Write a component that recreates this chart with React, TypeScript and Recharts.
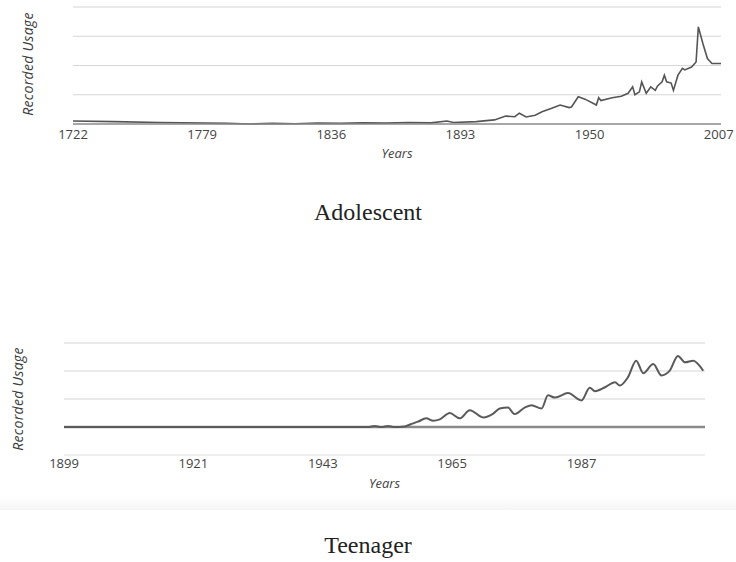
import React from "react"
import { LineChart, Line, XAxis, YAxis, CartesianGrid, ReferenceLine, Label } from "recharts"

// Adolescent: recorded usage by year (gridline units)
const adolescentYears = [
  1722, 1740, 1760, 1790, 1800, 1810, 1820, 1830, 1840, 1850, 1860, 1870, 1880, 1887, 1890,
  1900, 1908, 1913, 1917, 1919, 1922, 1926, 1929, 1933, 1937, 1941, 1942, 1945, 1948, 1953,
  1954, 1955, 1960, 1964, 1967, 1969, 1970, 1972, 1973, 1975, 1977, 1979, 1980, 1982, 1983,
  1984, 1986, 1987, 1989, 1991, 1992, 1995, 1997, 1998, 2000, 2002, 2004, 2008,
]
const adolescentUsage = [
  0.1, 0.08, 0.05, 0.02, 0, 0.02, 0.01, 0.03, 0.02, 0.04, 0.03, 0.05, 0.04, 0.1, 0.05,
  0.08, 0.14, 0.27, 0.25, 0.37, 0.24, 0.3, 0.42, 0.53, 0.65, 0.56, 0.58, 0.93, 0.85, 0.65,
  0.9, 0.8, 0.9, 0.95, 1.05, 1.27, 1.0, 1.1, 1.44, 1.05, 1.27, 1.15, 1.3, 1.44, 1.67,
  1.44, 1.4, 1.15, 1.67, 1.9, 1.85, 1.95, 2.12, 3.32, 2.75, 2.24, 2.07, 2.07,
]
const adolescentTicks = [1722, 1779, 1836, 1893, 1950, 2007]

// Teenager: recorded usage by year (gridline units)
const teenagerYears = [
  1899, 1950.7, 1951.8, 1953, 1954.1, 1955.2, 1956.9, 1958, 1959.2, 1960.6, 1961.8, 1962.9,
  1964.6, 1966.3, 1968, 1970.3, 1972, 1973.1, 1974.5, 1975.6, 1977.4, 1978.5, 1980.2, 1981.3,
  1982.5, 1984.7, 1987, 1988.4, 1989.3, 1991, 1992.7, 1993.5, 1994.9, 1996.3, 1997.5, 1999.2,
  2000.6, 2002, 2003.4, 2004.6, 2006, 2007.7,
]
const teenagerUsage = [
  0, 0, 0.04, 0, 0.04, 0, 0.02, 0.1, 0.19, 0.31, 0.22, 0.27,
  0.5, 0.31, 0.6, 0.34, 0.48, 0.66, 0.7, 0.46, 0.7, 0.78, 0.66, 1.13,
  1.05, 1.21, 0.95, 1.4, 1.28, 1.42, 1.6, 1.48, 1.78, 2.37, 1.92, 2.25,
  1.84, 2.01, 2.54, 2.31, 2.37, 2.01,
]
const teenagerTicks = [1899, 1921, 1943, 1965, 1987]

const adolescentData = adolescentYears.map((year, i) => ({ year, usage: adolescentUsage[i] }))
const teenagerData = teenagerYears.map((year, i) => ({ year, usage: teenagerUsage[i] }))

const tickStyle = { fontSize: 13, fill: "#444", fontFamily: "'Open Sans', sans-serif" }
const axisTitle = { fontSize: 13, fill: "#444", fontStyle: "italic", fontFamily: "'Open Sans', sans-serif" }

const yTitleStyle = (left: number, top: number, width: number): React.CSSProperties => ({
  position: "absolute",
  left: left - width / 2,
  top: top - 9,
  width,
  height: 18,
  textAlign: "center",
  transform: "rotate(-90deg)",
  fontFamily: "'Open Sans', sans-serif",
  fontStyle: "italic",
  fontSize: 14,
  letterSpacing: 0.3,
  color: "#3a3a3a",
  lineHeight: "18px",
  whiteSpace: "nowrap",
})

const captionStyle = (top: number): React.CSSProperties => ({
  position: "absolute",
  left: 0,
  top,
  width: 736,
  textAlign: "center",
  fontFamily: "'Liberation Serif', serif",
  fontSize: 24,
  color: "#222",
  lineHeight: "30px",
})

export default function App() {
  return (
    <div style={{ position: "absolute", left: 0, top: 0, width: 736, height: 562, background: "#fff", overflow: "hidden" }}>
      <div style={{ position: "absolute", left: 0, top: 0 }}>
        <LineChart width={736} height={170} data={adolescentData} margin={{ top: 7, right: 15, bottom: 6, left: 73 }}>
          <CartesianGrid vertical={false} horizontalValues={[1, 2, 3, 4]} stroke="#d6d6d6" strokeWidth={1.2} />
          <XAxis
            dataKey="year"
            type="number"
            domain={[1722, 2008]}
            ticks={adolescentTicks}
            height={40}
            tickLine={false}
            tickSize={5}
            tickMargin={1}
            tick={tickStyle}
            axisLine={{ stroke: "#8a8a8a", strokeWidth: 1.5 }}
          >
            <Label value="Years" position="insideBottom" offset={6} style={axisTitle} />
          </XAxis>
          <YAxis hide domain={[0, 4]} ticks={[0, 1, 2, 3, 4]} />
          <Line type="linear" dataKey="usage" stroke="#555" strokeWidth={1.6} dot={false} isAnimationActive={false} />
        </LineChart>
      </div>
      <div style={yTitleStyle(28, 64, 120)}>Recorded Usage</div>
      <div style={captionStyle(197)}>Adolescent</div>

      <div style={{ position: "absolute", left: 0, top: 330 }}>
        <LineChart width={736} height={170} data={teenagerData} margin={{ top: 13, right: 31, bottom: 5, left: 64 }}>
          <CartesianGrid vertical={false} horizontalValues={[1, 2, 3]} stroke="#d6d6d6" strokeWidth={1.2} />
          <XAxis
            dataKey="year"
            type="number"
            domain={[1899, 2008]}
            ticks={teenagerTicks}
            height={40}
            tickLine={false}
            tickSize={4}
            tickMargin={0}
            tick={tickStyle}
            axisLine={{ stroke: "#dedede", strokeWidth: 1.2 }}
          >
            <Label value="Years" position="insideBottom" offset={7} style={axisTitle} />
          </XAxis>
          <YAxis hide domain={[-1, 3]} ticks={[-1, 0, 1, 2, 3]} />
          <ReferenceLine y={0} stroke="#8a8a8a" strokeWidth={2.5} />
          <Line type="monotone" dataKey="usage" stroke="#5a5a5a" strokeWidth={2} dot={false} isAnimationActive={false} />
        </LineChart>
      </div>
      <div style={yTitleStyle(18, 399, 116)}>Recorded Usage</div>
      <div style={{ position: "absolute", left: 0, top: 496, width: 736, height: 14, background: "linear-gradient(#fff, #f5f5f5)" }} />
      <div style={captionStyle(530)}>Teenager</div>
    </div>
  )
}
